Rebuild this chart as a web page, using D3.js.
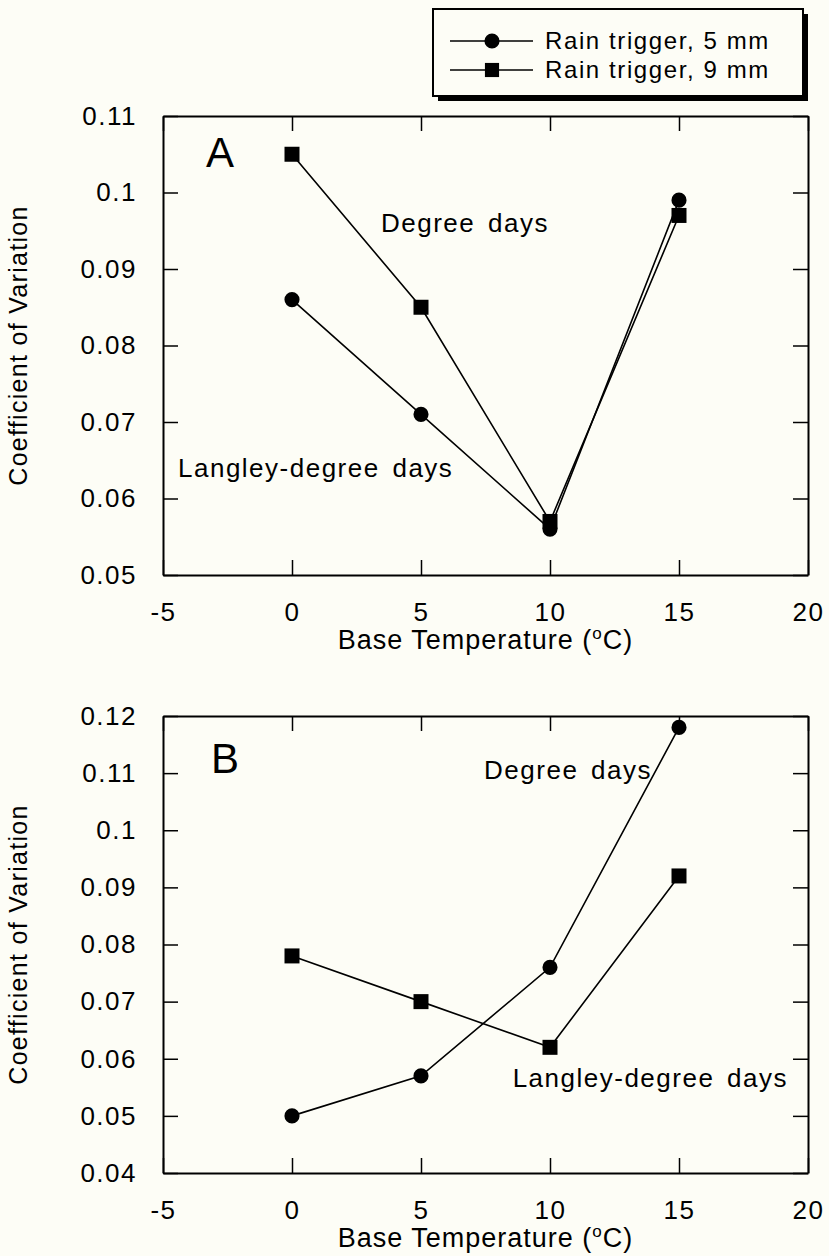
<!DOCTYPE html>
<html>
<head>
<meta charset="utf-8">
<script src="https://cdn.jsdelivr.net/npm/d3@7"></script>
<style>
  body { margin: 0; background: #fdfdf6; }
  svg { display: block; }
  text { font-family: "Liberation Sans", Arial, sans-serif; fill: #000; }
</style>
</head>
<body>
<div id="chart"></div>
<script>
// base temperature (x)
var baseTemps = [0, 5, 10, 15];

// panel A: degree days / langley-degree days
var cvA5mm = [0.086, 0.071, 0.056, 0.099];
var cvA9mm = [0.105, 0.085, 0.057, 0.097];

// panel B
var cvB5mm = [0.050, 0.057, 0.076, 0.118];
var cvB9mm = [0.078, 0.070, 0.062, 0.092];

var xTicks = [-5, 0, 5, 10, 15, 20];
var yTicksA = [0.05, 0.06, 0.07, 0.08, 0.09, 0.1, 0.11];
var yTicksB = [0.04, 0.05, 0.06, 0.07, 0.08, 0.09, 0.1, 0.11, 0.12];

var seriesNames = ["Rain trigger, 5 mm", "Rain trigger, 9 mm"];

var W = 829, H = 1256;
var svg = d3.select("#chart").append("svg")
    .attr("width", W)
    .attr("height", H);

svg.append("rect").attr("width", W).attr("height", H).attr("fill", "#fdfdf6");

var left = 163, right = 808;

function drawPanel(opt) {
    var x = d3.scaleLinear().domain([-5, 20]).range([left, right]);
    var y = d3.scaleLinear().domain(opt.yDomain).range([opt.bottom, opt.top]);
    var g = svg.append("g");

    // left axis with labels
    g.append("g")
        .attr("transform", "translate(" + left + ",0)")
        .call(d3.axisLeft(y).tickValues(opt.yTicks).tickSize(-15).tickSizeOuter(0).tickPadding(26)
            .tickFormat(function(d) { return String(+d.toFixed(2)); }));
    // right axis
    g.append("g")
        .attr("transform", "translate(" + right + ",0)")
        .call(d3.axisRight(y).tickValues(opt.yTicks).tickSize(-15).tickSizeOuter(0).tickFormat(""));
    // bottom axis (plain hyphen for negatives, like the original)
    g.append("g")
        .attr("transform", "translate(0," + opt.bottom + ")")
        .call(d3.axisBottom(x).tickValues(xTicks).tickSize(-15).tickSizeOuter(0).tickPadding(28)
            .tickFormat(function(d) { return String(d); }));
    // top axis
    g.append("g")
        .attr("transform", "translate(0," + opt.top + ")")
        .call(d3.axisTop(x).tickValues(xTicks).tickSize(-15).tickSizeOuter(0).tickFormat(""));

    g.selectAll(".domain").attr("stroke", "#000").attr("stroke-width", 2);
    g.selectAll(".tick line").attr("stroke", "#000").attr("stroke-width", 1.5);
    g.selectAll(".tick text")
        .style("font-size", "26px")
        .style("letter-spacing", "1.5px")
        .attr("fill", "#000");

    // axis titles
    var xt = g.append("text")
        .attr("x", (left + right) / 2)
        .attr("y", opt.bottom + 74)
        .attr("text-anchor", "middle")
        .style("font-size", "27px")
        .style("letter-spacing", "1px");
    xt.append("tspan").text("Base Temperature (");
    xt.append("tspan").attr("dy", -10).style("font-size", "17px").text("o");
    xt.append("tspan").attr("dy", 10).text("C)");

    g.append("text")
        .attr("transform", "translate(27," + (opt.top + opt.bottom) / 2 + ") rotate(-90)")
        .attr("text-anchor", "middle")
        .style("font-size", "25px")
        .style("letter-spacing", "1.3px")
        .text("Coefficient of Variation");

    // panel letter
    g.append("text")
        .attr("x", opt.letterX).attr("y", opt.letterY)
        .style("font-size", "42px")
        .text(opt.letter);

    // curve labels
    opt.labels.forEach(function(l) {
        g.append("text")
            .attr("x", l.x).attr("y", l.y)
            .attr("text-anchor", l.anchor || "start")
            .style("font-size", "26px")
            .style("letter-spacing", "1.5px")
            .style("word-spacing", "4px")
            .text(l.text);
    });

    var line = d3.line()
        .x(function(d, i) { return x(baseTemps[i]); })
        .y(function(d) { return y(d); });

    [opt.s5, opt.s9].forEach(function(s, k) {
        g.append("path")
            .datum(s)
            .attr("d", line)
            .attr("fill", "none")
            .attr("stroke", "#000")
            .attr("stroke-width", 1.6);
        g.selectAll(null)
            .data(s)
            .enter()
            .append("path")
            .attr("transform", function(d, i) { return "translate(" + x(baseTemps[i]) + "," + y(d) + ")"; })
            .attr("d", d3.symbol().type(k === 0 ? d3.symbolCircle : d3.symbolSquare).size(k === 0 ? 180 : 225))
            .attr("fill", "#000");
    });
}

drawPanel({
    top: 116, bottom: 575, yDomain: [0.05, 0.11], yTicks: yTicksA,
    s5: cvA5mm, s9: cvA9mm,
    letter: "A", letterX: 206, letterY: 167,
    labels: [
        {text: "Degree days", x: 381, y: 232},
        {text: "Langley-degree days", x: 178, y: 477}
    ]
});

drawPanel({
    top: 716, bottom: 1173, yDomain: [0.04, 0.12], yTicks: yTicksB,
    s5: cvB5mm, s9: cvB9mm,
    letter: "B", letterX: 211, letterY: 773,
    labels: [
        {text: "Degree days", x: 652, y: 779, anchor: "end"},
        {text: "Langley-degree days", x: 788, y: 1087, anchor: "end"}
    ]
});

// legend box with drop shadow
var legend = svg.append("g");
legend.append("rect")
    .attr("x", 438).attr("y", 14).attr("width", 370).attr("height", 87)
    .attr("fill", "#000");
legend.append("rect")
    .attr("x", 433).attr("y", 9).attr("width", 370).attr("height", 87)
    .attr("fill", "#fdfdf6").attr("stroke", "#000").attr("stroke-width", 2);

var legRows = legend.selectAll(".row")
    .data(seriesNames)
    .enter()
    .append("g")
    .attr("transform", function(d, i) { return "translate(0," + (i === 0 ? 41 : 70) + ")"; });
legRows.append("line")
    .attr("x1", 450).attr("x2", 533)
    .attr("stroke", "#000").attr("stroke-width", 1.6);
legRows.append("path")
    .attr("transform", "translate(492,0)")
    .attr("d", function(d, i) { return d3.symbol().type(i === 0 ? d3.symbolCircle : d3.symbolSquare).size(i === 0 ? 180 : 200)(); })
    .attr("fill", "#000");
legRows.append("text")
    .attr("x", 545).attr("y", 8)
    .style("font-size", "24px")
    .style("letter-spacing", "1.6px")
    .text(function(d) { return d; });
</script>
</body>
</html>
